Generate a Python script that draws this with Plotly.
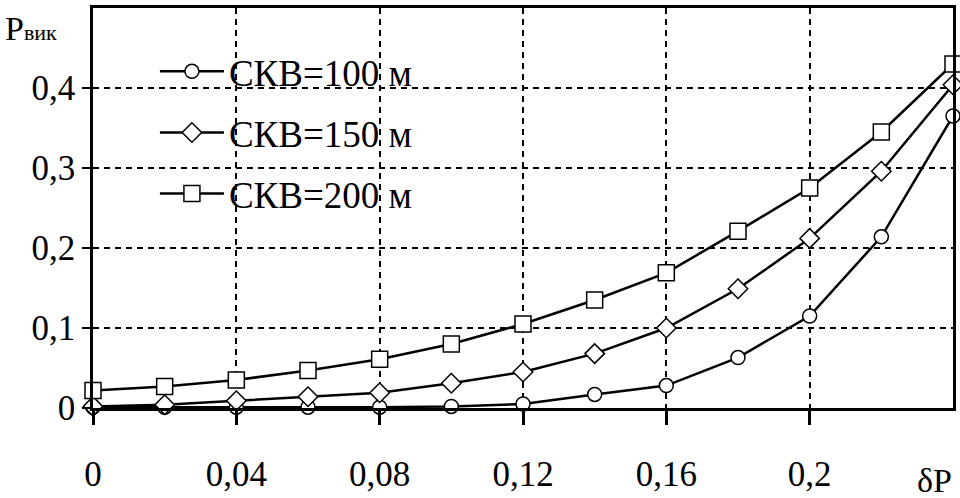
import plotly.graph_objects as go

x_vals = [0, 0.02, 0.04, 0.06, 0.08, 0.10, 0.12, 0.14, 0.16, 0.18, 0.20, 0.22, 0.24]
skv100 = [0.001, 0.001, 0.001, 0.001, 0.001, 0.002, 0.005, 0.017, 0.028, 0.063, 0.115, 0.214, 0.365]
skv150 = [0.002, 0.004, 0.009, 0.014, 0.019, 0.031, 0.045, 0.068, 0.100, 0.149, 0.212, 0.296, 0.404]
skv200 = [0.022, 0.027, 0.035, 0.047, 0.061, 0.080, 0.105, 0.135, 0.169, 0.221, 0.275, 0.345, 0.430]

series_names = ["СКВ=100 м", "СКВ=150 м", "СКВ=200 м"]
series_symbols = ["circle", "diamond", "square"]
series_sizes = [14, 15, 16]

x_tickvals = [0, 0.04, 0.08, 0.12, 0.16, 0.20]
x_ticktext = ["0", "0,04", "0,08", "0,12", "0,16", "0,2"]
y_tickvals = [0, 0.1, 0.2, 0.3, 0.4]
y_ticktext = ["0", "0,1", "0,2", "0,3", "0,4"]

FONT = "Liberation Serif, Times New Roman, serif"

fig = go.Figure()
for i, (name, ys) in enumerate(zip(series_names, [skv100, skv150, skv200])):
    fig.add_trace(go.Scatter(
        x=x_vals, y=ys, name=name, mode="lines+markers",
        legendgroup=f"g{i}",
        line=dict(color="black", width=2.5),
        marker=dict(symbol=series_symbols[i], size=series_sizes[i], color="white",
                    line=dict(color="black", width=1.5)),
        cliponaxis=False,
    ))

fig.update_layout(
    width=960, height=498,
    margin=dict(l=93, r=4, t=8, b=87),
    paper_bgcolor="white", plot_bgcolor="white",
    font=dict(family=FONT, color="black", size=35),
    showlegend=True,
    legend=dict(x=0.072, y=0.918, xanchor="left", yanchor="top",
                bgcolor="rgba(0,0,0,0)", font=dict(size=37, family=FONT),
                tracegroupgap=10, itemwidth=64),
    xaxis=dict(range=[0, 0.24], tickvals=x_tickvals, ticktext=x_ticktext,
               showgrid=True, gridcolor="black", griddash="6px,5px", gridwidth=1.5,
               showline=True, linecolor="black", linewidth=2.5, mirror=True,
               ticks="outside", ticklen=14, tickwidth=2.5, tickcolor="black",
               ticklabelstandoff=19, zeroline=False,
               tickfont=dict(size=35, family=FONT)),
    yaxis=dict(range=[0, 0.5], tickvals=y_tickvals, ticktext=y_ticktext,
               showgrid=True, gridcolor="black", griddash="6px,5px", gridwidth=1.5,
               showline=True, linecolor="black", linewidth=2.5, mirror=True,
               ticks="outside", ticklen=8, tickwidth=2, tickcolor="black",
               zeroline=False, tickfont=dict(size=35, family=FONT)),
)

fig.add_annotation(text="P<span style='font-size:22px'>вик</span>", xref="paper", yref="paper",
                   x=-0.105, y=1.0, xanchor="left", yanchor="top", showarrow=False,
                   font=dict(size=34, family=FONT))
fig.add_annotation(text="δP", xref="paper", yref="paper",
                   x=0.978, y=-0.13, xanchor="center", yanchor="top", showarrow=False,
                   font=dict(size=34, family=FONT))

fig.write_html("out.html")
